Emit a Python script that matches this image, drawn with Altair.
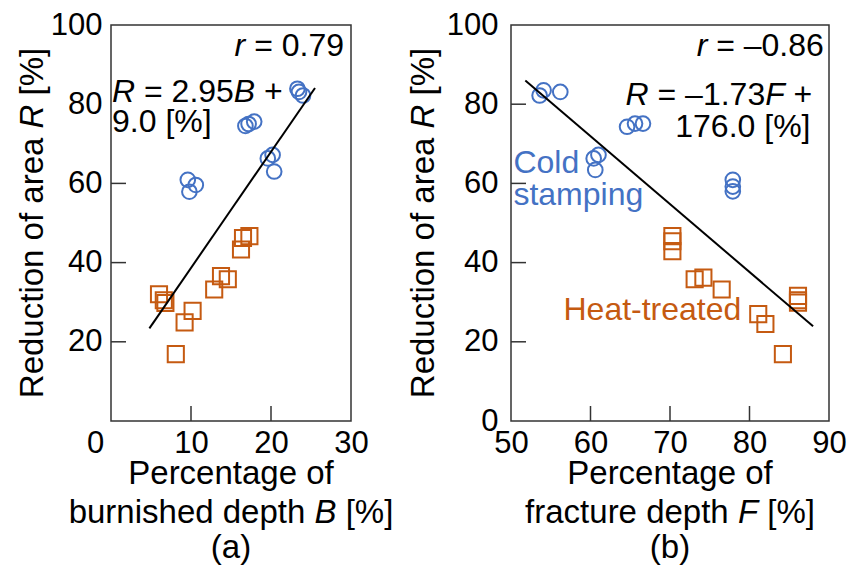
import altair as alt
import pandas as pd

FONT = "Liberation Sans, Arial, sans-serif"
BLUE = "#4472C4"
ORANGE = "#C55A11"
FRAME = "#333333"

# ---------------- data ----------------
# panel (a): burnished depth B vs reduction of area R
cold_B = [9.6, 10.6, 9.8, 16.8, 17.2, 17.9, 19.6, 20.2, 20.4, 23.3, 24.0, 23.5]
cold_RB = [60.9, 59.6, 57.9, 74.5, 75.0, 75.6, 66.3, 67.2, 63.0, 83.9, 82.2, 83.1]
heat_B = [6.0, 6.6, 6.8, 9.2, 10.2, 8.1, 12.9, 13.75, 14.6, 16.25, 16.5, 17.3]
heat_RB = [32.0, 30.5, 29.8, 24.9, 27.8, 16.9, 33.2, 36.6, 35.8, 43.3, 46.2, 46.7]
fit_B = [4.8, 25.5]
fit_RB = [23.4, 84.1]

# panel (b): fracture depth F vs reduction of area R
cold_F = [53.6, 54.1, 56.2, 64.6, 65.6, 66.6, 60.4, 61.0, 60.6, 77.9, 77.9, 77.9]
cold_RF = [82.2, 83.5, 83.1, 74.3, 75.1, 75.1, 66.3, 67.2, 63.4, 60.9, 59.2, 58.0]
heat_F = [70.3, 70.3, 70.3, 73.1, 74.2, 76.5, 81.1, 82.0, 84.2, 86.1, 86.1, 86.1]
heat_RF = [46.7, 45.4, 42.9, 35.8, 36.2, 33.2, 27.0, 24.5, 16.9, 31.6, 30.5, 29.9]
fit_F = [51.8, 88.0]
fit_RF = [86.0, 23.9]

# axis tick labels
left_x_labels = [0, 10, 20, 30]
left_y_labels = [20, 40, 60, 80, 100]
right_x_labels = [50, 60, 70, 80, 90]
right_y_labels = [0, 20, 40, 60, 80, 100]
# inward tick marks
left_x_inner = [10, 20]
left_y_inner = [20, 40, 60]
right_x_inner = [60, 70, 80]
right_y_inner = [20, 40, 60, 80]

W_L, W_R, H = 240, 318, 396
FS_TICK, FS_TITLE, FS_ANN = 31, 33, 32

AW = {' ': 278, '%': 889, '(': 333, ')': 333, '+': 584, '-': 333, '.': 278, '=': 584,
      '[': 278, ']': 278, '\u2013': 556,
      'A': 667, 'B': 667, 'C': 722, 'F': 611, 'H': 722, 'P': 667, 'R': 722,
      'a': 556, 'b': 556, 'c': 500, 'd': 556, 'e': 556, 'f': 278, 'g': 556, 'h': 556,
      'i': 222, 'k': 500, 'l': 222, 'm': 833, 'n': 556, 'o': 556, 'p': 556, 'r': 333,
      's': 500, 't': 278, 'u': 556, 'y': 500}


def tw(s, fs):
    return sum(AW.get(c, 556) for c in s) * fs / 1000.0


ONE = pd.DataFrame({'k': [0]})


def segments(segs, align, fs, color, place, angle=None):
    """Build text layers for a string made of normal/italic pieces."""
    total = sum(tw(s, fs) for s, _ in segs)
    cum = {'left': 0.0, 'center': -total / 2.0, 'right': -total}[align]
    out = []
    for s, it in segs:
        lead = len(s) - len(s.lstrip(' '))
        txt = s.strip(' ')
        kw = dict(text=txt, font=FONT, fontSize=fs, color=color, align='left',
                  baseline='alphabetic', dx=cum + tw(' ' * lead, fs),
                  fontStyle='italic' if it else 'normal')
        if angle is not None:
            kw['angle'] = angle
        if txt:
            out.append(place(kw))
        cum += tw(s, fs)
    return out


def make_panel(W, xdom, xlabels, ylabels, xin, yin, ylabpad, zero_off,
               cold, heat, fit, anns, ytitle_x, xline2, xline3):
    xscale = alt.Scale(domain=xdom, nice=False, zero=False)
    yscale = alt.Scale(domain=[0, 100], nice=False, zero=False)
    xax = dict(values=xlabels, title=None, grid=False, domain=False, ticks=False, tickSize=0,
               labelFontSize=FS_TICK, labelFont=FONT, labelColor='black', labelPadding=7,
               labelFlush=False, labelOverlap=False)
    if zero_off:
        xax['labelOffset'] = {"condition": {"test": "datum.value === 0", "value": zero_off}, "value": 0}
    xaxis = alt.Axis(**xax)
    yaxis = alt.Axis(values=ylabels, title=None, grid=False, domain=False, ticks=False, tickSize=0,
                     labelFontSize=FS_TICK, labelFont=FONT, labelColor='black',
                     labelPadding=ylabpad, labelFlush=False, labelOverlap=False)
    X = alt.X('x:Q', scale=xscale, axis=xaxis)
    Y = alt.Y('y:Q', scale=yscale, axis=yaxis)

    layers = []
    # inward ticks
    layers.append(alt.Chart(pd.DataFrame({'x': xin})).mark_rule(color=FRAME, strokeWidth=1.5)
                  .encode(x=X, y=alt.value(H), y2=alt.value(H - 15)))
    layers.append(alt.Chart(pd.DataFrame({'y': yin})).mark_rule(color=FRAME, strokeWidth=1.5)
                  .encode(y=Y, x=alt.value(0), x2=alt.value(15)))
    # points
    layers.append(alt.Chart(pd.DataFrame({'x': cold[0], 'y': cold[1]}))
                  .mark_point(shape='circle', filled=False, size=215, strokeWidth=2, color=BLUE, opacity=1)
                  .encode(x=X, y=Y))
    layers.append(alt.Chart(pd.DataFrame({'x': heat[0], 'y': heat[1]}))
                  .mark_point(shape='square', filled=False, size=260, strokeWidth=2, color=ORANGE, opacity=1)
                  .encode(x=X, y=Y))
    # regression line
    layers.append(alt.Chart(pd.DataFrame({'x': fit[0], 'y': fit[1]}))
                  .mark_line(color='black', strokeWidth=2).encode(x=X, y=Y))

    # annotations in data coordinates
    for segs, align, xv, yv, color in anns:
        df = pd.DataFrame({'x': [xv], 'y': [yv]})
        layers += segments(segs, align, FS_ANN, color,
                           lambda kw, df=df: alt.Chart(df).mark_text(**kw).encode(x=X, y=Y))

    # axis titles (pixel positions relative to the plot area)
    def at(px, py):
        return lambda kw: alt.Chart(ONE).mark_text(**kw).encode(x=alt.value(px), y=alt.value(py))

    layers += segments([("Reduction of area ", False), ("R", True), (" [%]", False)],
                       'center', FS_TITLE, 'black', at(ytitle_x, H / 2), angle=270)
    layers += segments([("Percentage of", False)], 'center', FS_TITLE, 'black', at(W / 2, H + 63))
    layers += segments(xline2, 'center', FS_TITLE, 'black', at(W / 2, H + 102))
    layers += segments([(xline3, False)], 'center', FS_TITLE, 'black', at(W / 2, H + 137))

    return alt.layer(*layers).properties(width=W, height=H)


left = make_panel(
    W_L, [0, 30], left_x_labels, left_y_labels, left_x_inner, left_y_inner, 9, -16,
    (cold_B, cold_RB), (heat_B, heat_RB), (fit_B, fit_RB),
    [
        ([("r", True), (" = 0.79", False)], 'right', 29.125, 92.2, 'black'),
        ([("R", True), (" = 2.95", False), ("B", True), (" +", False)], 'left', 0.125, 80.65, 'black'),
        ([("9.0 [%]", False)], 'left', 0.125, 73.1, 'black'),
    ],
    -68,
    [("burnished depth ", False), ("B", True), (" [%]", False)], "(a)")

right = make_panel(
    W_R, [50, 90], right_x_labels, right_y_labels, right_x_inner, right_y_inner, 13, 0,
    (cold_F, cold_RF), (heat_F, heat_RF), (fit_F, fit_RF),
    [
        ([("r", True), (" = \u20130.86", False)], 'right', 89.35, 92.2, 'black'),
        ([("R", True), (" = \u20131.73", False), ("F", True), (" +", False)], 'right', 87.9, 79.7, 'black'),
        ([("176.0 [%]", False)], 'right', 87.67, 71.8, 'black'),
        ([("Cold", False)], 'left', 50.3, 62.6, BLUE),
        ([("stamping", False)], 'left', 50.3, 54.6, BLUE),
        ([("Heat-treated", False)], 'left', 56.6, 25.4, ORANGE),
    ],
    -77,
    [("fracture depth ", False), ("F", True), (" [%]", False)], "(b)")

chart = (
    alt.hconcat(left, right, spacing=160, bounds='flush')
    .configure_view(stroke=FRAME, strokeWidth=1.5)
    .properties(padding={"left": 8, "top": 0, "right": 0, "bottom": 0}, background='white')
)

chart.save("out.html", embed_options={"renderer": "svg", "actions": False})
